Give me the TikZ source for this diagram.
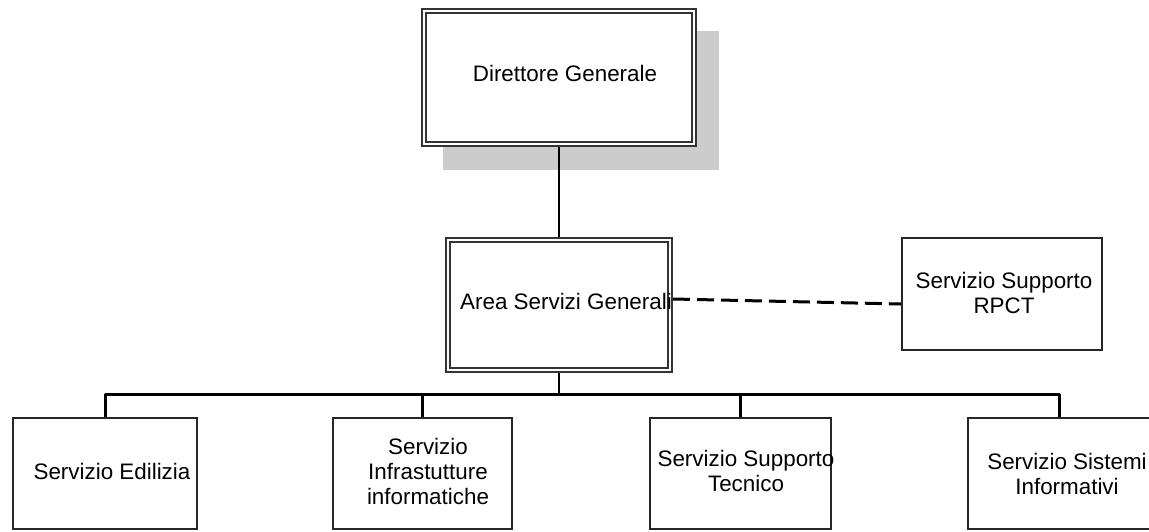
\documentclass[tikz,border=0pt]{standalone}
\usepackage{fontspec}
\setmainfont{Liberation Sans}
\usetikzlibrary{calc,backgrounds}
\begin{document}
\begin{tikzpicture}[x=1pt,y=-1pt,
  every node/.style={font=\fontsize{22.4}{25}\selectfont, inner sep=0pt, outer sep=0pt},
  unitbox/.style={draw=black!85, line width=2pt, fill=white, outer sep=1pt},
  mainbox/.style={draw=black!80, line width=1.6pt, double=white, double distance=2.4pt, fill=white, outer sep=2.8pt},
  caption/.style={align=center, text=black},
  link/.style={draw=black, line width=2pt},
  bus/.style={draw=black, line width=3pt, line join=round},
  staff/.style={draw=black, line width=3pt, dash pattern=on 17pt off 7pt},
  shadowfill/.style={fill=black!20}
]
\useasboundingbox (0,0) rectangle (1149,531);

% management boxes (double frame)
\node[mainbox, minimum width=270.4, minimum height=133.4] (dg) at (559,77.5) {};
\node[mainbox, minimum width=222.4, minimum height=130.4] (asg) at (559,305) {};

% staff office
\node[unitbox, minimum width=200, minimum height=112] (rpct) at (1002,294) {};

% operating units
\node[unitbox, minimum width=184, minimum height=111] (ed)  at (105,473.5) {};
\node[unitbox, minimum width=179, minimum height=111] (inf) at (422.5,473.5) {};
\node[unitbox, minimum width=181, minimum height=111] (st)  at (740.5,473.5) {};
\node[unitbox, minimum width=183, minimum height=111] (si)  at (1059.5,473.5) {};

% drop shadow of the top box
\begin{scope}[on background layer]
  \fill[shadowfill] ($(dg.north west)+(22,23)$) rectangle ($(dg.south east)+(22,23)$);
\end{scope}

% hierarchy
\coordinate (hub) at (559,394);
\draw[link] (dg.south) -- (asg.north);
\draw[link] (asg.south) -- (hub);
\draw[bus] (ed.north) -- (ed.north |- hub) -- (si.north |- hub) -- (si.north);
\draw[bus] (inf.north) -- (inf.north |- hub);
\draw[bus] (st.north) -- (st.north |- hub);

% functional link to the staff office
\draw[staff] ($(asg.east)+(0,-6)$) -- ($(rpct.west)+(0,10)$);

% labels
\node[caption] (dg-t)   at (565,73)     {Direttore Generale};
\node[caption] (asg-t)  at (566,301)    {Area Servizi Generali};
\node[caption] (rpct-t) at (1004,292.5) {Servizio Supporto\\RPCT};
\node[caption] (ed-t)   at (112,471)    {Servizio Edilizia};
\node[caption] (inf-t)  at (428,471)    {Servizio\\Infrastutture\\informatiche};
\node[caption] (st-t)   at (746,470.5)  {Servizio Supporto\\Tecnico};
\node[caption] (si-t)   at (1067,473.5) {Servizio Sistemi\\Informativi};
\end{tikzpicture}
\end{document}
